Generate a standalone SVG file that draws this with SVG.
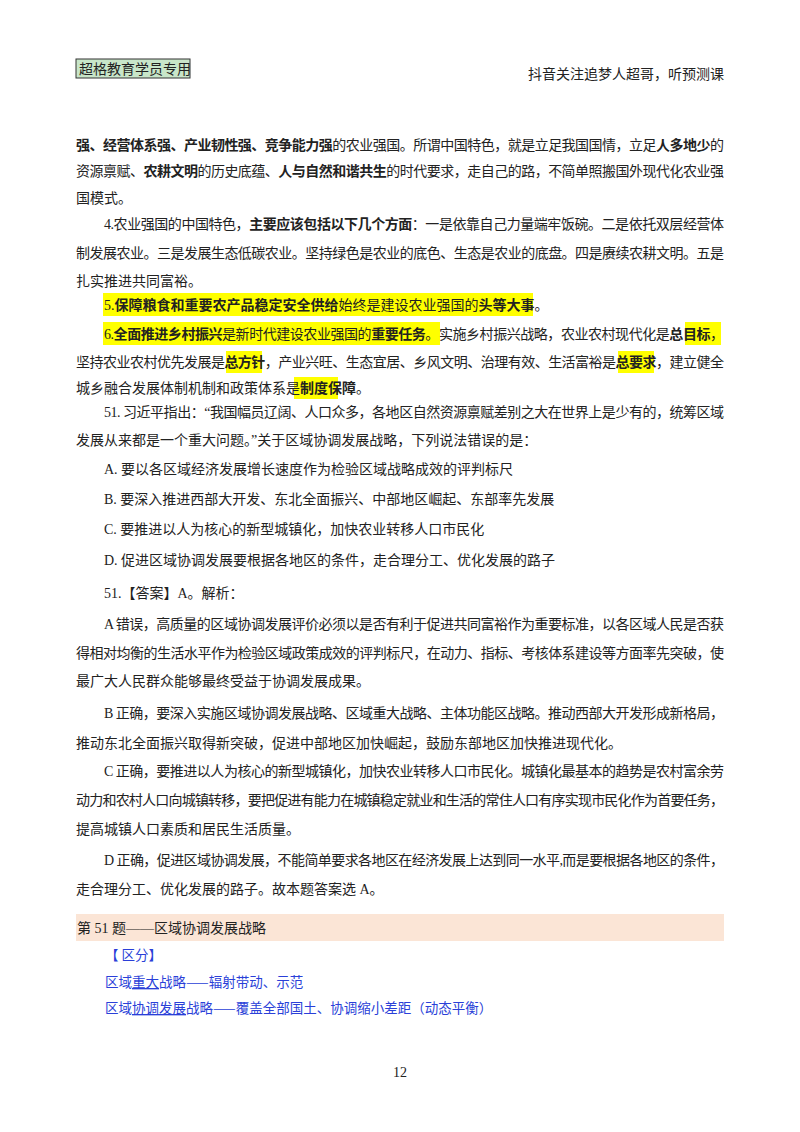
<svg xmlns="http://www.w3.org/2000/svg" width="800" height="1132" viewBox="0 0 800 1132">
<style>
text{font-family:"Liberation Serif","Noto Sans CJK SC",serif;font-size:14px;fill:#222}
.b{font-weight:bold;font-family:"Noto Sans CJK SC",sans-serif}
.bl{fill:#2a3fd8;font-family:"Noto Sans CJK SC",sans-serif;font-size:13.5px}
.hl{fill:#ffff00}
</style>
<rect width="800" height="1132" fill="#fff"/>
<g id="header">
<rect x="76" y="59" width="114" height="19" fill="#c8e6c9" stroke="#333" stroke-width="1"/>
<text x="79" y="74">超格教育学员专用</text>
<text x="724" y="79" text-anchor="end">抖音关注追梦人超哥，听预测课</text>
</g>
<g id="highlights">
<rect class="hl" x="103" y="293" width="430" height="23"/>
<rect class="hl" x="103" y="322" width="337" height="23"/>
<rect class="hl" x="685" y="322" width="36" height="23"/>
<rect class="hl" x="226" y="351" width="36" height="22"/>
<rect class="hl" x="618" y="351" width="36" height="22"/>
<rect class="hl" x="294" y="377" width="44" height="22"/>
<rect x="76" y="914" width="648" height="27" fill="#fbe5d6"/>
</g>
<g id="body">
<text x="76" y="150" textLength="648" lengthAdjust="spacing"><tspan class="b">强、经营体系强、产业韧性强、竞争能力强</tspan>的农业强国。所谓中国特色，就是立足我国国情，立足<tspan class="b">人多地少</tspan>的</text>
<text x="76" y="176" textLength="648" lengthAdjust="spacing">资源禀赋、<tspan class="b">农耕文明</tspan>的历史底蕴、<tspan class="b">人与自然和谐共生</tspan>的时代要求，走自己的路，不简单照搬国外现代化农业强</text>
<text x="76" y="203">国模式。</text>
<text x="104" y="229" textLength="620" lengthAdjust="spacing">4.农业强国的中国特色，<tspan class="b">主要应该包括以下几个方面</tspan>：一是依靠自己力量端牢饭碗。二是依托双层经营体</text>
<text x="76" y="258" textLength="648" lengthAdjust="spacing">制发展农业。三是发展生态低碳农业。坚持绿色是农业的底色、生态是农业的底盘。四是赓续农耕文明。五是</text>
<text x="76" y="286">扎实推进共同富裕。</text>
<text x="104" y="310">5.<tspan class="b">保障粮食和重要农产品稳定安全供给</tspan>始终是建设农业强国的<tspan class="b">头等大事</tspan>。</text>
<text x="104" y="339" textLength="620" lengthAdjust="spacing">6.<tspan class="b">全面推进乡村振兴</tspan>是新时代建设农业强国的<tspan class="b">重要任务</tspan>。实施乡村振兴战略，农业农村现代化是<tspan class="b">总目标</tspan>，</text>
<text x="76" y="367" textLength="648" lengthAdjust="spacing">坚持农业农村优先发展是<tspan class="b">总方针</tspan>，产业兴旺、生态宜居、乡风文明、治理有效、生活富裕是<tspan class="b">总要求</tspan>，建立健全</text>
<text x="76" y="393">城乡融合发展体制机制和政策体系是<tspan class="b">制度保障</tspan>。</text>
<text x="104" y="417" textLength="620" lengthAdjust="spacing">51. 习近平指出：“我国幅员辽阔、人口众多，各地区自然资源禀赋差别之大在世界上是少有的，统筹区域</text>
<text x="76" y="445">发展从来都是一个重大问题。”关于区域协调发展战略，下列说法错误的是：</text>
<text x="104" y="474">A. 要以各区域经济发展增长速度作为检验区域战略成效的评判标尺</text>
<text x="104" y="504">B. 要深入推进西部大开发、东北全面振兴、中部地区崛起、东部率先发展</text>
<text x="104" y="534">C. 要推进以人为核心的新型城镇化，加快农业转移人口市民化</text>
<text x="104" y="565">D. 促进区域协调发展要根据各地区的条件，走合理分工、优化发展的路子</text>
<text x="104" y="598">51.【答案】A。解析：</text>
<text x="104" y="629" textLength="620" lengthAdjust="spacing">A 错误，高质量的区域协调发展评价必须以是否有利于促进共同富裕作为重要标准，以各区域人民是否获</text>
<text x="76" y="658" textLength="648" lengthAdjust="spacing">得相对均衡的生活水平作为检验区域政策成效的评判标尺，在动力、指标、考核体系建设等方面率先突破，使</text>
<text x="76" y="686">最广大人民群众能够最终受益于协调发展成果。</text>
<text x="104" y="718" textLength="620" lengthAdjust="spacing">B 正确，要深入实施区域协调发展战略、区域重大战略、主体功能区战略。推动西部大开发形成新格局，</text>
<text x="76" y="748">推动东北全面振兴取得新突破，促进中部地区加快崛起，鼓励东部地区加快推进现代化。</text>
<text x="104" y="776" textLength="620" lengthAdjust="spacing">C 正确，要推进以人为核心的新型城镇化，加快农业转移人口市民化。城镇化最基本的趋势是农村富余劳</text>
<text x="76" y="805" textLength="648" lengthAdjust="spacing">动力和农村人口向城镇转移，要把促进有能力在城镇稳定就业和生活的常住人口有序实现市民化作为首要任务，</text>
<text x="76" y="834">提高城镇人口素质和居民生活质量。</text>
<text x="104" y="865" textLength="620" lengthAdjust="spacing">D 正确，促进区域协调发展，不能简单要求各地区在经济发展上达到同一水平,而是要根据各地区的条件，</text>
<text x="76" y="894">走合理分工、优化发展的路子。故本题答案选 A。</text>
<text x="77" y="933">第 51 题——区域协调发展战略</text>
<text class="bl" x="105" y="960">【 区分】</text>
<text class="bl" x="105" y="987">区域<tspan text-decoration="underline">重大</tspan>战略——辐射带动、示范</text>
<text class="bl" x="105" y="1013">区域<tspan text-decoration="underline">协调发展</tspan>战略——覆盖全部国土、协调缩小差距（动态平衡）</text>
<text x="400" y="1077" text-anchor="middle" font-size="12">12</text>
</g>
</svg>
